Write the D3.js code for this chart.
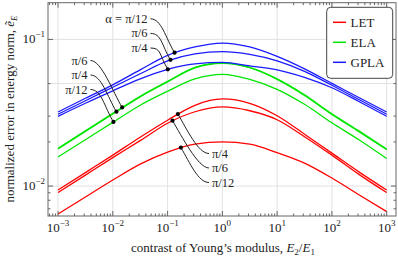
<!DOCTYPE html>
<html><head><meta charset="utf-8">
<script src="https://cdn.jsdelivr.net/npm/d3@7"></script>
<style>
body{margin:0;background:#fff}
svg{display:block}
</style>
</head><body>
<svg id="chart" width="398" height="259" font-family="'Liberation Serif', 'DejaVu Serif', 'Times New Roman', serif"></svg>
<script>
// ---- data ----
const contrast = [0.001, 0.00316, 0.01, 0.0316, 0.1, 0.316, 1, 3.16, 10, 31.6, 100, 316, 1000];
const letPi4  = [0.00939, 0.01235, 0.01625, 0.02154, 0.02812, 0.03556, 0.03926, 0.0367, 0.03017, 0.02258, 0.01677, 0.01245, 0.00939];
const letPi6  = [0.00903, 0.01188, 0.01563, 0.02040, 0.02683, 0.03212, 0.03463, 0.03263, 0.02834, 0.02171, 0.01625, 0.01197, 0.00903];
const letPi12 = [0.00645, 0.00842, 0.01099, 0.01411, 0.01703, 0.01931, 0.02001, 0.01931, 0.0169, 0.01433, 0.01134, 0.00869, 0.00669];
const elaPi4  = [0.0179, 0.0236, 0.0310, 0.0406, 0.0513, 0.0640, 0.0688, 0.0641, 0.0534, 0.0415, 0.0308, 0.0234, 0.0177];
const elaPi6  = [0.0181, 0.0238, 0.0313, 0.0410, 0.0518, 0.0645, 0.0692, 0.0645, 0.0538, 0.0419, 0.0311, 0.0237, 0.0179];
const elaPi12 = [0.0158, 0.0207, 0.0272, 0.0356, 0.0443, 0.0538, 0.0578, 0.0534, 0.0457, 0.0361, 0.0270, 0.0206, 0.0154];
const gplaPi4  = [0.0299, 0.0367, 0.0446, 0.0538, 0.0625, 0.0681, 0.0697, 0.0660, 0.0620, 0.0551, 0.0468, 0.0376, 0.0299];
const gplaPi6  = [0.0309, 0.0382, 0.0472, 0.0583, 0.0714, 0.0797, 0.0825, 0.0791, 0.0714, 0.0606, 0.0487, 0.0388, 0.0309];
const gplaPi12 = [0.0320, 0.0397, 0.0490, 0.0620, 0.0778, 0.0889, 0.0944, 0.0889, 0.0766, 0.0630, 0.0502, 0.0400, 0.0320];

const methods = ["LET", "ELA", "GPLA"];
const methodColors = ["#ff0000", "#00e600", "#1a1aff"];

const xMajorTicks = [0.001, 0.01, 0.1, 1, 10, 100, 1000];
const xTickExp = ["−3", "−2", "−1", "0", "1", "2", "3"];
const yMajorTicks = [0.01, 0.1];
const yTickExp = ["−2", "−1"];
const yMinorTicks = [0.007, 0.008, 0.009, 0.02, 0.03, 0.05];
const yGrid = [0.01, 0.05, 0.1];

// callouts: contrast of the dot, series it sits on, label
const upperCallouts = [
  {x: 0.134, s: "gplaPi12", label: "α = π/12"},
  {x: 0.113, s: "gplaPi6", label: "π/6"},
  {x: 0.101, s: "gplaPi4", label: "π/4"}];
const leftCallouts = [
  {x: 0.0148, s: "elaPi6", label: "π/6"},
  {x: 0.01164, s: "elaPi4", label: "π/4"},
  {x: 0.01026, s: "elaPi12", label: "π/12"}];
const lowerCallouts = [
  {x: 0.1542, s: "letPi4", label: "π/4"},
  {x: 0.123, s: "letPi6", label: "π/6"},
  {x: 0.175, s: "letPi12", label: "π/12"}];

// ---- layout ----
const L = 48, R = 396, T = 2.7, B = 216;
const svg = d3.select("#chart");
const x = d3.scaleLog().domain([0.000656, 1479]).range([L, R]);
const y = d3.scaleLog().domain([0.00625, 0.178]).range([B, T]);
const ink = "#222";

const series = [
  {id: "letPi4", m: 0, v: letPi4}, {id: "letPi6", m: 0, v: letPi6}, {id: "letPi12", m: 0, v: letPi12},
  {id: "elaPi4", m: 1, v: elaPi4}, {id: "elaPi6", m: 1, v: elaPi6}, {id: "elaPi12", m: 1, v: elaPi12},
  {id: "gplaPi4", m: 2, v: gplaPi4}, {id: "gplaPi6", m: 2, v: gplaPi6}, {id: "gplaPi12", m: 2, v: gplaPi12}];

// grid
const g = svg.append("g");
g.selectAll(".vg").data(xMajorTicks).join("line")
  .attr("x1", d => x(d)).attr("x2", d => x(d)).attr("y1", T).attr("y2", B)
  .attr("stroke", "#e2e2e2").attr("stroke-width", 1);
g.selectAll(".hg").data(yGrid).join("line")
  .attr("y1", d => y(d)).attr("y2", d => y(d)).attr("x1", L).attr("x2", R)
  .attr("stroke", "#e2e2e2").attr("stroke-width", 1);

// curves
const line = d3.line().x((d, i) => x(contrast[i])).y(d => y(d)).curve(d3.curveMonotoneX);
svg.append("clipPath").attr("id", "clip").append("rect")
  .attr("x", L).attr("y", T).attr("width", R - L).attr("height", B - T);
const paths = {};
const cg = svg.append("g").attr("clip-path", "url(#clip)");
series.forEach(s => {
  paths[s.id] = cg.append("path").attr("d", line(s.v)).attr("fill", "none")
    .attr("stroke", methodColors[s.m]).attr("stroke-width", 1.3).node();
});

// frame + ticks
const minorX = [];
for (let e = -4; e <= 3; e++) for (let k = 2; k <= 9; k++) {
  const v = k * Math.pow(10, e);
  if (x(v) > L && x(v) < R) minorX.push(v);
}
const tk = svg.append("g").attr("stroke", "#666").attr("stroke-width", 1);
xMajorTicks.forEach(v => {
  tk.append("line").attr("x1", x(v)).attr("x2", x(v)).attr("y1", B).attr("y2", B - 5);
  tk.append("line").attr("x1", x(v)).attr("x2", x(v)).attr("y1", T).attr("y2", T + 5);
});
minorX.forEach(v => {
  tk.append("line").attr("x1", x(v)).attr("x2", x(v)).attr("y1", B).attr("y2", B - 2.5);
  tk.append("line").attr("x1", x(v)).attr("x2", x(v)).attr("y1", T).attr("y2", T + 2.5);
});
yMajorTicks.forEach(v => {
  tk.append("line").attr("y1", y(v)).attr("y2", y(v)).attr("x1", L).attr("x2", L + 5);
  tk.append("line").attr("y1", y(v)).attr("y2", y(v)).attr("x1", R).attr("x2", R - 5);
});
yMinorTicks.forEach(v => {
  tk.append("line").attr("y1", y(v)).attr("y2", y(v)).attr("x1", L).attr("x2", L + 2.5);
  tk.append("line").attr("y1", y(v)).attr("y2", y(v)).attr("x1", R).attr("x2", R - 2.5);
});
svg.append("rect").attr("x", L).attr("y", T).attr("width", R - L).attr("height", B - T)
  .attr("fill", "none").attr("stroke", "#666").attr("stroke-width", 1);

// tick labels
xMajorTicks.forEach((v, i) => {
  const t = svg.append("text").attr("x", x(v)).attr("y", 231.5).attr("text-anchor", "middle")
    .attr("font-size", 13).attr("fill", ink);
  t.append("tspan").text("10");
  t.append("tspan").attr("dy", -6).attr("font-size", 9).text(xTickExp[i]);
});
yMajorTicks.forEach((v, i) => {
  const t = svg.append("text").attr("x", 45).attr("y", y(v) + 4).attr("text-anchor", "end")
    .attr("font-size", 13).attr("fill", ink);
  t.append("tspan").text("10");
  t.append("tspan").attr("dy", -6).attr("font-size", 9).text(yTickExp[i]);
});

// axis titles
const xt = svg.append("text").attr("x", 223).attr("y", 252).attr("text-anchor", "middle")
  .attr("font-size", 13).attr("fill", ink);
xt.append("tspan").text("contrast of Young’s modulus, ");
xt.append("tspan").attr("font-style", "italic").text("E");
xt.append("tspan").attr("dy", 3).attr("font-size", 9).text("2");
xt.append("tspan").attr("dy", -3).text("/");
xt.append("tspan").attr("font-style", "italic").text("E");
xt.append("tspan").attr("dy", 3).attr("font-size", 9).text("1");

const yt = svg.append("text").attr("transform", "translate(14,109) rotate(-90)")
  .attr("text-anchor", "middle").attr("font-size", 13).attr("fill", ink);
yt.append("tspan").text("normalized error in energy norm, ");
yt.append("tspan").attr("font-style", "italic").text("ẽ");
yt.append("tspan").attr("dy", 3).attr("font-size", 9).attr("font-style", "italic").text("E");

// callouts
function pointOn(id, xv) {
  const p = paths[id], px = x(xv);
  let lo = 0, hi = p.getTotalLength();
  for (let k = 0; k < 40; k++) {
    const mid = (lo + hi) / 2;
    if (p.getPointAtLength(mid).x < px) lo = mid; else hi = mid;
  }
  return p.getPointAtLength(lo);
}
const ag = svg.append("g");
function drawCallouts(list, labelX, labelYs, side) {
  list.forEach((c, i) => {
    const d = pointOn(c.s, c.x);
    const ly = labelYs[i];
    let path;
    if (side === "left") {
      const sx = labelX + 3;
      path = `M${sx},${ly} C${sx + 11},${ly} ${d.x - 9},${d.y - 15} ${d.x},${d.y}`;
    } else {
      const ex = labelX - 3;
      path = `M${d.x},${d.y} C${d.x + 9},${d.y + 15} ${ex - 11},${ly} ${ex},${ly}`;
    }
    ag.append("path").attr("d", path).attr("fill", "none").attr("stroke", "#222").attr("stroke-width", 1);
    ag.append("circle").attr("cx", d.x).attr("cy", d.y).attr("r", 2.1).attr("fill", "#000");
    ag.append("text").attr("x", labelX).attr("y", ly + 4).attr("font-size", 12.5).attr("fill", ink)
      .attr("text-anchor", side === "left" ? "end" : "start").text(c.label);
  });
}
drawCallouts(upperCallouts, 147.5, [18.8, 33.4, 48], "left");
drawCallouts(leftCallouts, 87.5, [60.5, 75, 89.5], "left");
drawCallouts(lowerCallouts, 212, [153.5, 168, 182.5], "right");

// legend
const lg = svg.append("g");
lg.append("rect").attr("x", 326.7).attr("y", 7.3).attr("width", 66).attr("height", 71).attr("rx", 4)
  .attr("fill", "#fff").attr("stroke", "#444").attr("stroke-width", 1);
methods.forEach((m, i) => {
  const yy = 22.3 + i * 20;
  lg.append("line").attr("x1", 333).attr("x2", 346).attr("y1", yy).attr("y2", yy)
    .attr("stroke", methodColors[i]).attr("stroke-width", 1.5);
  lg.append("text").attr("x", 350.5).attr("y", yy + 4.5).attr("font-size", 13).attr("fill", ink).text(m);
});
</script>
</body></html>
